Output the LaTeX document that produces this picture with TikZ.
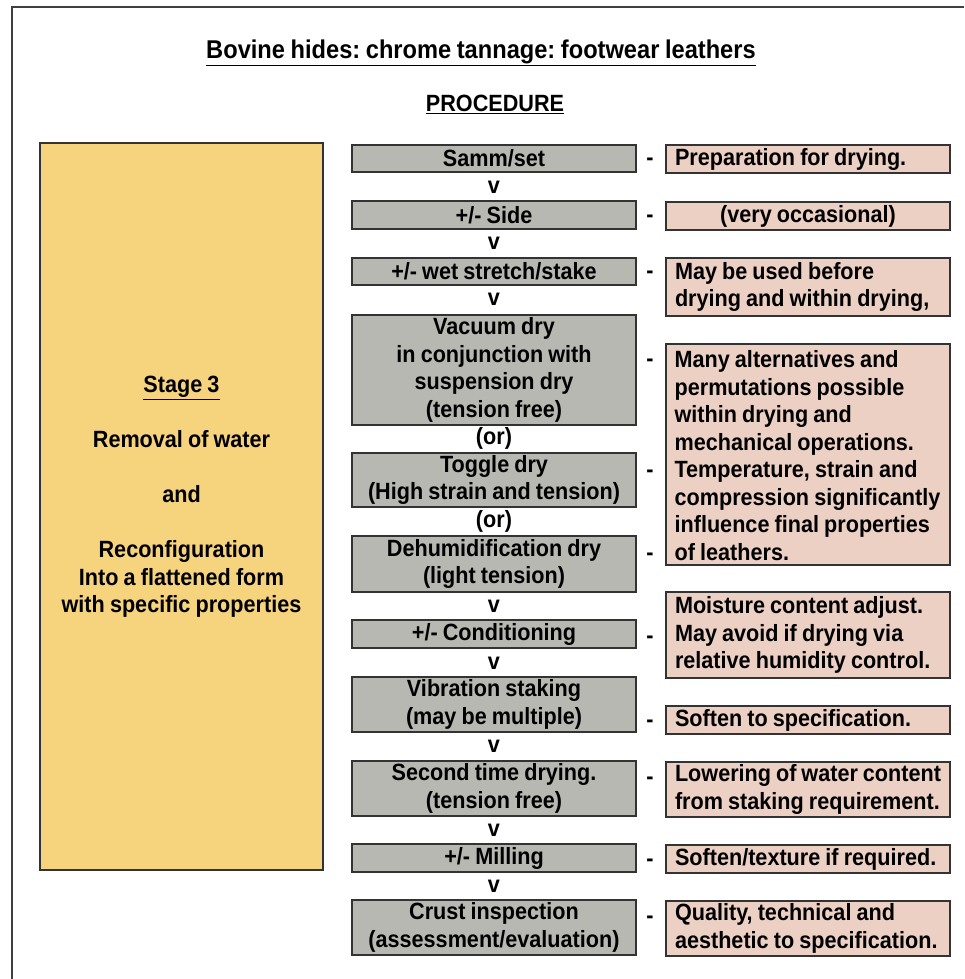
\documentclass[tikz,border=0pt]{standalone}
\usepackage{fontspec}
\setmainfont{Liberation Sans}[FakeStretch=0.92, WordSpace=0.85]
\definecolor{procgray}{RGB}{184,184,178}
\definecolor{notepink}{RGB}{236,208,196}
\definecolor{stageyellow}{RGB}{246,211,125}
\frenchspacing
\begin{document}
\begin{tikzpicture}[x=1pt,y=-1pt,
	every node/.style={font=\bfseries\fontsize{23.5}{27.5}\selectfont, inner sep=0pt},
	procbox/.style={draw=black!80, line width=1.2pt, fill=procgray, minimum width=284pt, minimum height=27pt, align=center},
	notebox/.style={draw=black!80, line width=1.2pt, fill=notepink, minimum width=284pt, minimum height=28pt, text width=266pt, align=flush left,
		execute at begin node={\hyphenpenalty=10000\exhyphenpenalty=10000}},
	stagebox/.style={draw=black!80, line width=1.2pt, fill=stageyellow, minimum width=283pt, minimum height=727pt}]
	\useasboundingbox (0,0) rectangle (964,979);
	\fill[white] (0,0) rectangle (964,979);
	\draw[line width=1.5pt, black!75] (964,7) -- (12,7) -- (12,979);
	\node (title) at (481,53) {\fontsize{25.7}{30}\selectfont\underline{Bovine hides: chrome tannage: footwear leathers}};
	\node (proc) at (495,104) {\underline{PROCEDURE}};
	\node[stagebox] (stage) at (181.5,506.5) {};
	\node[align=center] (stagetext) at (181.5,497) {\underline{Stage 3}\\[27.5pt] Removal of water\\[27.5pt] and\\[27.5pt] Reconfiguration\\ Into a flattened form\\ with specific properties};
	\node[procbox] (p1) at (494,158.5) {Samm/set};
	\node[procbox, minimum height=28pt] (p2) at (494,215) {+/- Side};
	\node[procbox] (p3) at (494,271.5) {+/- wet stretch/stake};
	\node[procbox, minimum height=110pt] (p4) at (494,370) {Vacuum dry\\ in conjunction with\\ suspension dry\\ (tension free)};
	\node[procbox, minimum height=54pt] (p5) at (494,480) {Toggle dry\\ (High strain and tension)};
	\node[procbox, minimum height=56pt] (p6) at (494,564) {Dehumidification dry\\ (light tension)};
	\node[procbox, minimum height=28pt] (p7) at (494,634) {+/- Conditioning};
	\node[procbox, minimum height=55pt] (p8) at (494,704.5) {Vibration staking\\ (may be multiple)};
	\node[procbox, minimum height=55pt] (p9) at (494,788.5) {Second time drying.\\ (tension free)};
	\node[procbox, minimum height=28pt] (p10) at (494,858) {+/- Milling};
	\node[procbox, minimum height=55pt] (p11) at (494,927.5) {Crust inspection\\ (assessment/evaluation)};
	\node (v1) at (494,187) {v};
	\node (v2) at (494,243) {v};
	\node (v3) at (494,299) {v};
	\node (or1) at (494,438) {(or)};
	\node (or2) at (494,521) {(or)};
	\node (v4) at (494,606) {v};
	\node (v5) at (494,663) {v};
	\node (v6) at (494,746) {v};
	\node (v7) at (494,830) {v};
	\node (v8) at (494,886) {v};
	\foreach \y [count=\i] in {158,215,271,359,470,553,636,720,777,859,916}
		\node[anchor=base] (d\i) at (650,\y+7) {-};
	\node[notebox] (n1) at (808,159) {Preparation for drying.};
	\node[notebox, align=flush center] (n2) at (808,216) {(very occasional)};
	\node[notebox, minimum height=58pt] (n3) at (808,287) {May be used before\\ drying and within drying,};
	\node[notebox, minimum height=221pt] (n4) at (808,454.5) {};
	\node[anchor=north west, align=left] (n4text) at ([xshift=9pt,yshift=-7pt]n4.north west) {Many alternatives and\\ permutations possible\\ within drying and\\ mechanical operations.\\ Temperature, strain and\\ compression significantly\\ influence final properties\\ of leathers.};
	\node[notebox, minimum height=86pt] (n5) at (808,635) {Moisture content adjust.\\ May avoid if drying via\\ relative humidity control.};
	\node[notebox] (n6) at (808,720) {Soften to specification.};
	\node[notebox, minimum height=55pt] (n7) at (808,789.5) {Lowering of water content\\ from staking requirement.};
	\node[notebox] (n8) at (808,859) {Soften/texture if required.};
	\node[notebox, minimum height=55pt] (n9) at (808,928.5) {Quality, technical and\\ aesthetic to specification.};
\end{tikzpicture}
\end{document}
